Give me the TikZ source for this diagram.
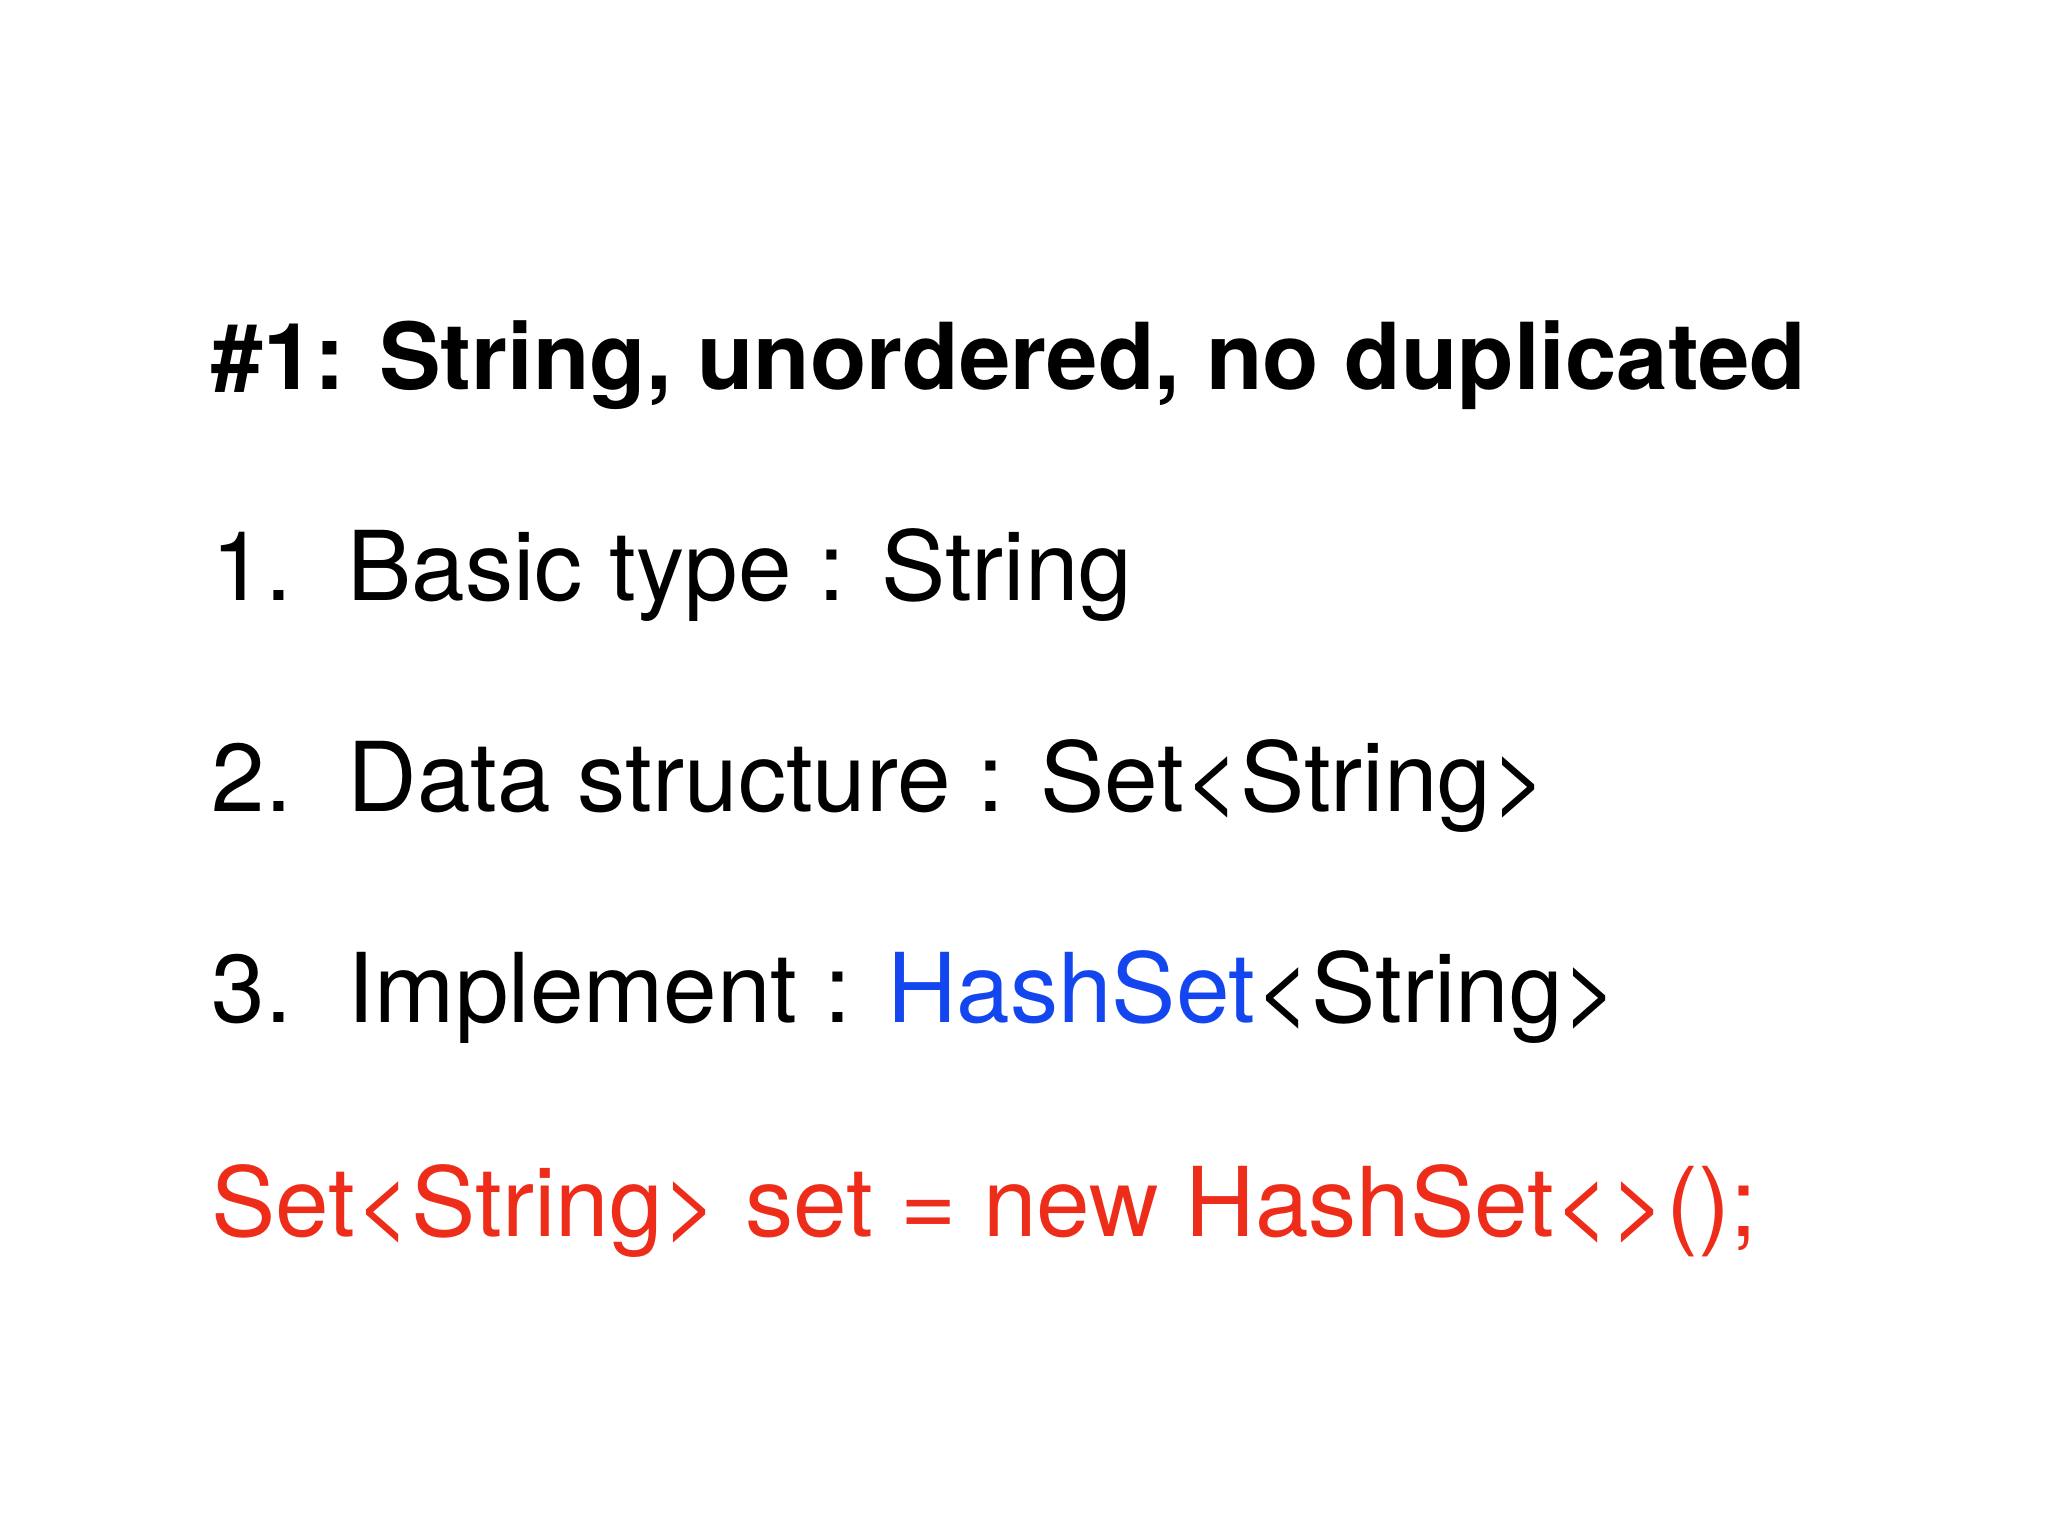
\documentclass[tikz,border=0pt]{standalone}
\usepackage{fontspec}
\setmainfont{TeX Gyre Heros}
\definecolor{codered}{RGB}{238,44,26}
\definecolor{hashblue}{RGB}{20,70,240}
\newcommand{\lt}{\textless}
\newcommand{\gt}{\textgreater}
\begin{document}
\begin{tikzpicture}[x=0.5pt,y=-0.5pt,
  txt/.style={anchor=base west,inner sep=0pt,font=\fontsize{36.5}{44}\selectfont}]
\useasboundingbox (0,0) rectangle (1552,1164);
\node[txt,font=\fontsize{35}{44}\selectfont\bfseries] (title) at (160,295) {\#1: String, unordered, no duplicated};
\node[txt] (n1) at (160,455) {1.};
\node[txt] (t1) at (263,455) {Basic type : String};
\node[txt] (n2) at (160,615) {2.};
\node[txt] (t2) at (263,615) {Data structure : Set\lt String\gt};
\node[txt] (n3) at (160,775) {3.};
\node[txt] (t3) at (263,775) {Implement : \textcolor{hashblue}{HashSet}\lt String\gt};
\node[txt,text=codered] (code) at (160,937) {Set\lt String\gt{} set = new HashSet\lt\gt();};
\end{tikzpicture}
\end{document}
